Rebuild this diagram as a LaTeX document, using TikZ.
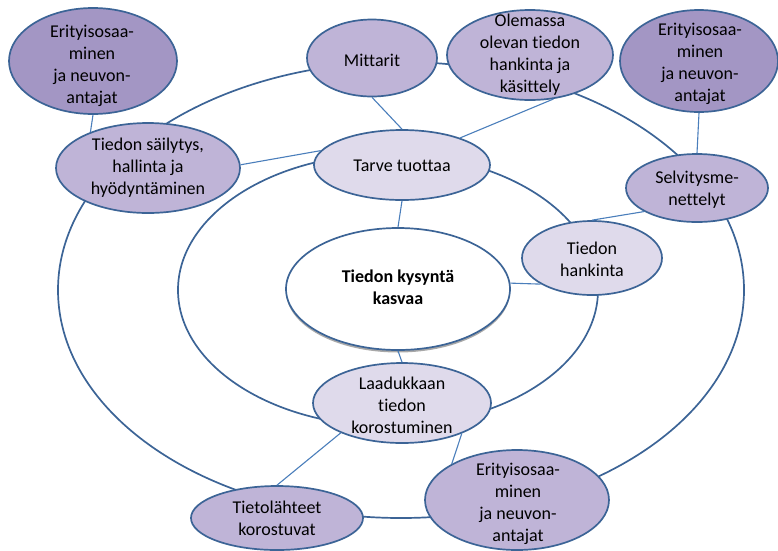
\documentclass[tikz,border=0pt]{standalone}
\usepackage{fontspec}
\setmainfont{Carlito}[Ligatures=NoCommon]
\usetikzlibrary{shapes.geometric,shadows}
\definecolor{rim}{HTML}{3C6496}
\definecolor{linkblue}{HTML}{4A7EBB}
\definecolor{bubdark}{HTML}{A396C4}
\definecolor{bubmid}{HTML}{BFB4D7}
\definecolor{bublight}{HTML}{DFDAEB}

\begin{document}
\begin{tikzpicture}[x=1pt,y=-1pt,
  ring/.style={ellipse, draw=rim, line width=1.7pt, inner sep=0pt},
  bubble/.style={ellipse, draw=rim, line width=1.7pt, inner sep=0pt},
  dark/.style={bubble, fill=bubdark},
  mid/.style={bubble, fill=bubmid},
  light/.style={bubble, fill=bublight},
  txt/.style={align=center, inner sep=0pt, font=\fontsize{18}{22}\selectfont},
  connector/.style={draw=linkblue, line width=1.1pt},
  sz/.style 2 args={minimum width=#1pt, minimum height=#2pt}
]
\useasboundingbox (0,0) rectangle (778,550);

% the two rings
\node[ring, sz={686}{456}] (outer) at (401,290) {};
\node[ring, sz={420}{272}] (inner) at (388,290) {};

% bubbles
\node[dark, sz={168}{106}] (e1) at (93,61) {};
\node[mid, sz={184}{90}] (sail) at (148,168) {};
\node[mid, sz={130}{77}] (mitt) at (372,58) {};
\node[mid, sz={166}{90}] (olem) at (530,55) {};
\node[dark, sz={158}{102}] (e2) at (699,61) {};
\node[mid, sz={142}{68}] (selv) at (697,188) {};
\node[light, sz={176}{70}] (tarve) at (402,165) {};
\node[light, sz={140}{74}] (hank) at (592,258) {};
\node[bubble, fill=white, sz={224}{122},
      drop shadow={shadow xshift=0pt, shadow yshift=-2.5pt, fill=gray!75, opacity=0.9}] (ctr) at (398,289) {};
\node[light, sz={178}{80}] (laad) at (402,403) {};
\node[mid, sz={172}{64}] (tiet) at (277,518) {};
\node[mid, sz={184}{100}] (e3) at (517,500) {};

% labels
\node[txt] (e1t) at (92,66) {Erityisosaa-\\minen\\ja neuvon-\\antajat};
\node[txt] (sailt) at (148,168) {Tiedon säilytys,\\hallinta ja\\hyödyntäminen};
\node[txt] (mittt) at (372,60) {Mittarit};
\node[txt] (olemt) at (530,55) {Olemassa\\olevan tiedon\\hankinta ja\\käsittely};
\node[txt] (e2t) at (700,64) {Erityisosaa-\\minen\\ja neuvon-\\antajat};
\node[txt] (selvt) at (697,190) {Selvitysme-\\nettelyt};
\node[txt] (tarvet) at (402,166) {Tarve tuottaa};
\node[txt] (hankt) at (592,259) {Tiedon\\hankinta};
\node[txt, font=\fontsize{18}{22}\selectfont\bfseries] (ctrt) at (398,287) {Tiedon kysyntä\\kasvaa};
\node[txt] (laadt) at (402,405) {Laadukkaan\\tiedon\\korostuminen};
\node[txt] (tiett) at (277,518) {Tietolähteet\\korostuvat};
\node[txt] (e3t) at (518,504) {Erityisosaa-\\minen\\ja neuvon-\\antajat};

% connectors
\draw[connector] (e1.south) -- (sail.148);
\draw[connector] (sail.2) -- (tarve.170);
\draw[connector] (mitt.south) -- (tarve.north);
\draw[connector] (olem.-62) -- (tarve.25.5);
\draw[connector] (ctr.north) -- (tarve.south);
\draw[connector] (ctr.3) -- (hank.207);
\draw[connector] (hank.north) -- (selv.204);
\draw[connector] (e2.south) -- (selv.north);
\draw[connector] (ctr.south) -- (laad.north);
\draw[connector] (laad.206.6) -- (tiet.north);
\draw[connector] (laad.-27.7) -- (e3.151.7);
\end{tikzpicture}
\end{document}
